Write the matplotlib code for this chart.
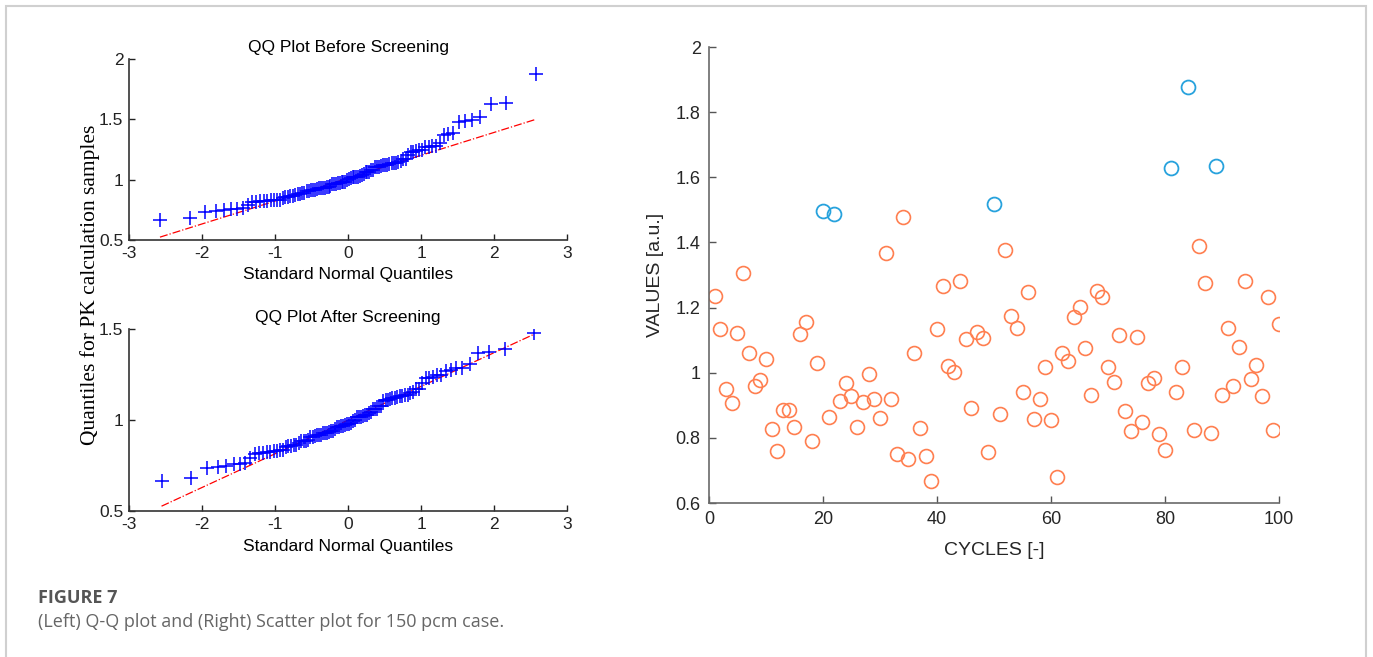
import numpy as np
import matplotlib.pyplot as plt
from matplotlib.patches import Rectangle
from statistics import NormalDist

# scatter data: value per cycle (cycles 1..100)
cycles = list(range(1, 101))
values = [
    1.236, 1.134, 0.951, 0.907, 1.122, 1.306, 1.062, 0.960, 0.978, 1.043,
    0.828, 0.759, 0.885, 0.886, 0.834, 1.119, 1.156, 0.790, 1.030, 1.497,
    0.864, 1.487, 0.914, 0.968, 0.930, 0.834, 0.909, 0.997, 0.920, 0.862,
    1.369, 0.918, 0.749, 1.478, 0.735, 1.062, 0.830, 0.744, 0.667, 1.133,
    1.267, 1.022, 1.002, 1.283, 1.102, 0.891, 1.125, 1.108, 0.756, 1.518,
    0.872, 1.376, 1.173, 1.137, 0.942, 1.247, 0.857, 0.918, 1.018, 0.856,
    0.679, 1.060, 1.037, 1.170, 1.203, 1.076, 0.933, 1.250, 1.231, 1.017,
    0.972, 1.115, 0.882, 0.820, 1.109, 0.849, 0.969, 0.984, 0.812, 0.763,
    1.627, 0.941, 1.019, 1.877, 0.824, 1.389, 1.274, 0.816, 1.636, 0.931,
    1.136, 0.960, 1.078, 1.283, 0.980, 1.025, 0.928, 1.232, 0.824, 1.149,
]
# cycles removed by the screening (drawn in blue)
outlier_cycles = [20, 22, 50, 81, 84, 89]

qq_xticks = [-3, -2, -1, 0, 1, 2, 3]
qq_top_yticks = [0.5, 1, 1.5, 2]
qq_bot_yticks = [0.5, 1, 1.5]
sc_xticks = [0, 20, 40, 60, 80, 100]
sc_yticks = [0.6, 0.8, 1.0, 1.2, 1.4, 1.6, 1.8, 2.0]

W, H = 1373, 657
fig = plt.figure(figsize=(W / 100, H / 100), dpi=100)

SANS = ['Liberation Sans', 'DejaVu Sans']


def box(l, t, r, b):
    return [l / W, 1 - b / H, (r - l) / W, (b - t) / H]


def qq(ax, data, title, yticks, ylim):
    data = np.sort(np.asarray(data))
    n = len(data)
    nd = NormalDist()
    xq = np.array([nd.inv_cdf((i - 0.5) / n) for i in range(1, n + 1)])
    q1, q3 = np.percentile(data, [25, 75])
    z1, z3 = nd.inv_cdf(0.25), nd.inv_cdf(0.75)
    slope = (q3 - q1) / (z3 - z1)
    ends = np.array([xq[0], xq[-1]])
    ax.plot(ends, q1 + slope * (ends - z1), color='red', ls='-.', lw=0.9)
    ax.plot(xq, data, '+', color='#0000ff', ms=10, mew=1.1)
    ax.set_xlim(-3, 3)
    ax.set_ylim(*ylim)
    ax.set_xticks(qq_xticks)
    ax.set_yticks(yticks)
    ax.set_xticklabels([f'{t:g}' for t in qq_xticks], family=SANS, fontsize=12.5)
    ax.set_yticklabels([f'{t:g}' for t in yticks], family=SANS, fontsize=12.5)
    ax.tick_params(direction='in', length=4, width=1, colors='#222222', pad=4)
    for s in ['top', 'right']:
        ax.spines[s].set_visible(False)
    for s in ['left', 'bottom']:
        ax.spines[s].set_color('#333333')
        ax.spines[s].set_linewidth(1.2)
    ax.set_title(title, family=SANS, fontsize=12.5, pad=5)
    ax.set_xlabel('Standard Normal Quantiles', family=SANS, fontsize=12.5, labelpad=5)


ax1 = fig.add_axes(box(129, 59, 567, 240))
qq(ax1, values, 'QQ Plot Before Screening', qq_top_yticks, (0.5, 2))

screened = [v for c, v in zip(cycles, values) if c not in outlier_cycles]
ax2 = fig.add_axes(box(129, 329, 567, 511))
qq(ax2, screened, 'QQ Plot After Screening', qq_bot_yticks, (0.5, 1.5))

fig.text(90 / W, 1 - 285 / H, 'Quantiles for PK calculation samples',
         rotation=90, ha='center', va='center', fontsize=15.5,
         family=['Liberation Serif', 'DejaVu Serif'])

# scatter
ax3 = fig.add_axes(box(709, 47, 1279, 503))
cx = [c for c in cycles if c not in outlier_cycles]
cy = [v for c, v in zip(cycles, values) if c not in outlier_cycles]
ox = [c for c in cycles if c in outlier_cycles]
oy = [v for c, v in zip(cycles, values) if c in outlier_cycles]
ax3.plot(cx, cy, 'o', mfc='none', mec='#ff7f50', ms=10, mew=1.2)
ax3.plot(ox, oy, 'o', mfc='none', mec='#27a2dd', ms=10, mew=1.3)
ax3.set_xlim(0, 100)
ax3.set_ylim(0.6, 2)
ax3.set_xticks(sc_xticks)
ax3.set_yticks(sc_yticks)
ax3.set_xticklabels([f'{t:g}' for t in sc_xticks], family=SANS, fontsize=13, color='#262626')
ax3.set_yticklabels([f'{t:g}' for t in sc_yticks], family=SANS, fontsize=13, color='#262626')
ax3.tick_params(direction='in', length=5, width=1, colors='#555555', pad=6,
                labelcolor='#262626')
for s in ['top', 'right']:
    ax3.spines[s].set_visible(False)
for s in ['left', 'bottom']:
    ax3.spines[s].set_color('#6a6a6a')
    ax3.spines[s].set_linewidth(1.2)
ax3.set_xlabel('CYCLES [-]', family=SANS, fontsize=14, color='#262626', labelpad=10)
ax3.set_ylabel('VALUES [a.u.]', family=SANS, fontsize=14, color='#262626', labelpad=8)

# caption and frame
fig.text(38 / W, 1 - 598 / H, 'FIGURE 7', fontsize=13, fontweight='bold',
         color='#555555', family=['Open Sans', 'DejaVu Sans'], va='center')
fig.text(38 / W, 1 - 622 / H,
         '(Left) Q-Q plot and (Right) Scatter plot for 150 pcm case.',
         fontsize=13, color='#666666', family=['Open Sans', 'DejaVu Sans'], va='center')
fig.add_artist(Rectangle((6 / W, -0.05), (1366 - 6) / W, 1 - 6 / H + 0.05,
                         transform=fig.transFigure, fill=False,
                         edgecolor='#d0d0d0', lw=1.5))

fig.savefig('out.png', dpi=100)
